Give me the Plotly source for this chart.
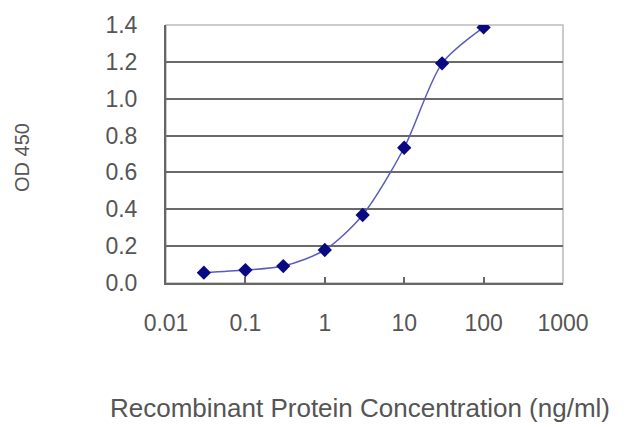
import plotly.graph_objects as go

# concentration (ng/ml) vs OD 450 readings
conc = [0.03, 0.1, 0.3, 1, 3, 10, 30, 100]
od450 = [0.056, 0.07, 0.092, 0.179, 0.369, 0.734, 1.192, 1.387]

x_ticks = [0.01, 0.1, 1, 10, 100, 1000]
x_tick_text = ["0.01", "0.1", "1", "10", "100", "1000"]
y_ticks = [0.0, 0.2, 0.4, 0.6, 0.8, 1.0, 1.2, 1.4]

TXT = "#555555"
FONT = "Liberation Sans, Arial, sans-serif"

fig = go.Figure()
fig.add_trace(go.Scatter(
    x=conc, y=od450, mode="lines+markers",
    line=dict(color="#5a5ac0", width=1.5, shape="spline", smoothing=0.8),
    marker=dict(symbol="diamond", size=11, color="#0a0a80"),
    showlegend=False))

# page body has an 8px margin, so margins are shifted to compensate
fig.update_layout(
    width=640, height=427,
    margin=dict(l=158, r=85, t=17, b=152),
    paper_bgcolor="white", plot_bgcolor="white",
    font=dict(family=FONT, size=23, color=TXT),
    xaxis=dict(type="log", range=[-2, 3], tickvals=x_ticks, ticktext=x_tick_text,
               showgrid=False, showline=True, linecolor="#666666", linewidth=2,
               ticks="inside", ticklen=6, tickcolor="#666666", tickwidth=1.5,
               mirror=False, zeroline=False, ticklabelstandoff=18, automargin=False),
    yaxis=dict(range=[0, 1.4], tickvals=y_ticks, tickformat=".1f",
               showgrid=True, gridcolor="#6a6a6a", gridwidth=2,
               showline=True, linecolor="#666666", linewidth=2,
               zeroline=False, ticks="", ticklabelstandoff=22, automargin=False),
    shapes=[dict(type="rect", xref="paper", yref="paper", x0=0, y0=0, x1=1, y1=1,
                 line=dict(color="#bbbbbb", width=1.5), layer="below")],
    annotations=[
        dict(text="Recombinant Protein Concentration (ng/ml)", xref="paper", yref="paper",
             x=0.489, y=-0.485, xanchor="center", yanchor="middle", showarrow=False,
             font=dict(size=26, color=TXT, family=FONT)),
        dict(text="OD 450", xref="paper", yref="paper", textangle=-90,
             x=-0.363, y=0.488, xanchor="center", yanchor="middle", showarrow=False,
             font=dict(size=20, color=TXT, family=FONT)),
    ],
)

fig.write_html("out.html")
